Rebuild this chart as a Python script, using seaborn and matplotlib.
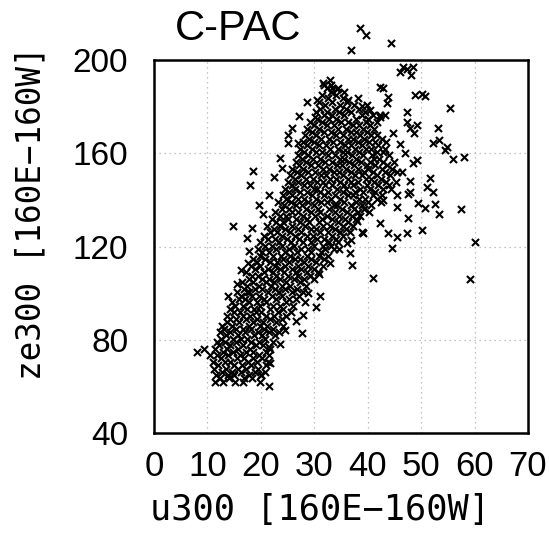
import matplotlib
matplotlib.use("Agg")
import matplotlib.pyplot as plt
import seaborn as sns
import pandas as pd

# dense cloud, row by row: (ze300 level, u300 values at that level)
rows_low = [
    (62.0, [11.4, 12.9, 15.2, 16.6, 19.8]),
    (63.4, [12.3, 14.1, 16.9, 18.3]),
    (64.9, [11.6, 13.8, 15.0, 17.7, 20.0]),
    (66.3, [12.7, 14.6, 16.2, 18.9, 20.7]),
    (67.6, [11.3, 13.4, 15.8, 17.2, 19.5]),
    (69.1, [12.0, 14.9, 16.5, 18.1, 20.9]),
    (70.5, [11.1, 13.2, 14.3, 17.6, 19.3, 21.4]),
    (72.0, [12.5, 15.5, 16.9, 18.6, 20.2]),
    (73.3, [10.4, 11.7, 13.9, 16.1, 19.7, 21.6]),
    (74.8, [8.1, 12.9, 14.8, 17.3, 18.5, 20.9]),
    (76.1, [9.3, 11.5, 13.6, 15.7, 17.9, 21.8]),
    (77.6, [12.2, 14.2, 16.6, 19.0, 20.4]),
    (79.0, [11.8, 13.3, 15.4, 18.1, 19.6, 22.2]),
    (80.4, [12.6, 14.7, 16.2, 17.5, 20.8]),
    (81.9, [13.5, 15.8, 18.8, 20.2, 22.6]),
    (83.2, [12.3, 14.2, 17.0, 19.4, 21.5, 23.4]),
    (84.7, [13.1, 15.3, 16.6, 18.2, 20.6, 22.3]),
    (86.0, [12.8, 14.6, 17.7, 19.9, 21.2, 24.1]),
    (87.5, [13.7, 16.0, 18.5, 20.4, 22.8]),
    (88.9, [14.3, 15.4, 17.2, 19.3, 21.8, 23.9]),
    (90.3, [13.6, 16.6, 18.0, 20.9, 22.4, 24.7]),
    (91.8, [14.9, 16.1, 19.0, 20.1, 23.3, 25.6]),
    (93.2, [14.2, 17.5, 18.7, 21.7, 24.2]),
    (94.6, [15.1, 16.6, 19.8, 22.3, 23.5, 26.1]),
    (96.0, [14.6, 17.8, 19.2, 21.0, 24.8, 28.2]),
    (97.5, [15.9, 17.1, 20.5, 22.9, 25.3, 26.6]),
    (98.9, [16.3, 18.4, 19.7, 22.1, 24.0, 27.2]),
]

rows_mid = [
    (100.3, [15.6, 17.7, 21.3, 23.4, 25.9, 27.9]),
    (101.8, [16.9, 18.9, 20.3, 22.7, 24.6, 26.8]),
    (103.2, [17.4, 19.6, 21.9, 23.9, 25.4, 28.5]),
    (104.7, [16.5, 18.6, 20.9, 22.5, 24.8, 27.3]),
    (106.0, [17.8, 20.2, 21.6, 23.6, 26.2, 28.1, 29.9]),
    (107.5, [18.4, 19.5, 22.9, 25.1, 27.0, 29.2]),
    (108.9, [17.3, 20.6, 22.2, 24.3, 26.5, 28.6, 30.7]),
    (110.3, [18.9, 21.3, 23.5, 25.8, 27.5, 29.9]),
    (111.8, [18.1, 19.8, 22.6, 24.6, 26.9, 28.9, 31.6]),
    (113.2, [19.3, 21.7, 23.1, 25.2, 28.0, 30.4]),
    (114.6, [18.6, 20.7, 24.1, 26.4, 27.3, 29.4, 31.9]),
    (116.1, [19.9, 22.3, 23.8, 25.5, 28.6, 30.8, 32.5]),
    (117.5, [20.3, 21.5, 24.6, 26.8, 29.3, 31.3]),
    (118.9, [19.5, 22.8, 25.2, 27.5, 28.9, 32.1, 33.6]),
    (120.4, [20.8, 22.0, 24.0, 26.2, 30.0, 31.6, 33.1]),
    (121.8, [19.9, 23.4, 25.7, 27.9, 29.4, 32.7, 34.5]),
    (123.3, [21.4, 22.6, 24.9, 27.2, 30.5, 31.9, 34.0]),
    (124.7, [20.6, 23.9, 26.3, 28.7, 29.8, 33.4, 35.3]),
    (126.1, [21.8, 23.0, 25.5, 27.6, 31.0, 32.6, 34.8, 36.6]),
    (127.6, [22.4, 24.6, 26.9, 29.3, 30.4, 33.9, 35.9]),
    (129.0, [21.2, 23.6, 25.9, 28.2, 31.7, 32.9, 35.4, 37.3]),
    (130.4, [22.9, 24.2, 27.4, 29.0, 30.8, 34.4, 36.4]),
    (131.9, [22.1, 25.1, 26.6, 28.6, 31.5, 33.3, 35.8, 37.9]),
    (133.3, [23.5, 24.7, 27.9, 30.1, 32.3, 34.7, 37.0, 38.5]),
    (134.7, [22.6, 25.8, 26.9, 29.4, 31.1, 33.8, 36.1, 38.1]),
    (136.2, [23.9, 25.3, 28.4, 30.7, 32.8, 35.2, 37.5, 39.4]),
    (137.6, [24.4, 26.5, 27.7, 29.9, 33.6, 34.3, 36.8, 38.9, 40.7]),
    (139.0, [23.2, 25.6, 28.9, 31.3, 32.4, 35.6, 37.9, 40.0]),
]

rows_high = [
    (140.5, [24.8, 26.9, 28.1, 30.4, 33.1, 34.9, 38.4, 39.5, 41.8]),
    (141.9, [24.1, 25.9, 29.6, 31.9, 33.9, 36.4, 37.2, 40.9, 42.6]),
    (143.4, [25.3, 27.4, 28.6, 31.1, 32.6, 35.3, 37.7, 39.1, 41.4]),
    (144.8, [24.5, 26.3, 29.9, 30.6, 34.3, 36.0, 38.6, 40.4, 42.9, 44.3]),
    (146.2, [25.8, 28.0, 29.2, 32.0, 33.4, 35.6, 37.3, 39.9, 41.9]),
    (147.7, [25.1, 27.0, 30.5, 31.6, 34.8, 36.9, 38.2, 41.1, 43.5, 45.3]),
    (149.1, [26.3, 28.5, 29.7, 32.9, 34.1, 36.3, 39.6, 40.6, 42.4]),
    (150.5, [25.5, 27.6, 31.2, 32.2, 35.4, 37.7, 38.9, 41.8, 44.1]),
    (152.0, [26.8, 28.9, 30.1, 33.6, 34.6, 36.9, 39.3, 40.9, 43.3, 45.4]),
    (153.4, [25.9, 27.9, 31.6, 32.8, 35.9, 38.2, 40.1, 42.6, 44.6]),
    (154.8, [27.2, 29.3, 30.7, 34.2, 35.2, 37.4, 39.8, 41.4, 43.7]),
    (156.3, [26.6, 28.4, 32.1, 33.3, 36.5, 38.7, 40.5, 42.9, 44.9]),
    (157.7, [27.7, 29.8, 31.0, 34.8, 35.6, 37.9, 41.2, 42.2]),
    (159.1, [26.9, 28.9, 32.6, 33.9, 37.1, 39.1, 40.8, 43.9]),
    (160.6, [28.1, 30.3, 31.5, 35.3, 36.2, 38.4, 41.7, 42.8]),
    (162.0, [27.3, 29.5, 33.0, 34.4, 37.6, 39.7, 40.6, 43.3]),
    (163.4, [28.6, 30.8, 32.2, 35.8, 36.8, 38.9, 42.0]),
    (164.9, [27.8, 29.9, 33.5, 34.9, 38.1, 40.2, 41.3, 43.5]),
    (166.3, [29.0, 31.3, 32.7, 36.3, 37.3, 39.4, 42.6]),
    (167.7, [28.3, 30.4, 34.0, 35.4, 38.6, 40.7, 41.8]),
    (169.2, [29.5, 31.8, 33.1, 36.8, 37.9, 39.9]),
    (170.6, [28.7, 30.9, 34.5, 35.9, 39.1, 41.2]),
    (172.0, [30.0, 32.3, 33.6, 37.3, 38.4, 40.4]),
    (173.5, [29.2, 31.4, 35.0, 36.4, 39.6, 41.7]),
    (174.9, [30.5, 32.8, 34.1, 37.8, 40.0]),
    (176.3, [31.9, 33.3, 35.5, 38.9, 41.0]),
    (177.8, [30.3, 32.4, 34.6, 36.9, 39.5]),
    (179.2, [31.1, 33.8, 35.9, 38.3]),
    (180.6, [32.1, 34.8, 37.4, 39.8]),
    (182.1, [30.9, 33.4, 36.2]),
    (183.5, [32.6, 35.3, 38.2]),
    (184.9, [31.4, 34.0]),
    (186.4, [33.1, 35.6]),
    (187.8, [32.3, 34.4]),
    (189.3, [31.8, 33.2]),
]

# scattered points around the band
outer_u = [38.6, 39.7, 36.9, 44.4, 46.6, 48.5, 48.1, 46.0, 47.4, 48.8, 50.2, 50.8,
           55.4, 47.3, 47.3, 48.0, 49.2, 48.6, 53.2, 52.2, 53.3, 54.8, 54.5, 56.0,
           58.0, 51.7, 51.1, 52.2, 52.6, 50.7, 53.3, 57.5, 50.2, 60.1, 59.1, 47.5,
           47.3, 45.5, 45.5, 47.5, 49.4, 43.8, 45.5, 38.9, 42.3, 41.0, 44.5, 37.0,
           36.7, 36.1, 39.1, 27.7, 30.3, 27.9, 21.5, 21.7, 21.5, 20.0, 44.7, 46.0,
           47.0, 48.5, 46.5, 48.0, 44.0, 49.2, 42.9, 47.9, 42.3, 30.5, 30.1, 25.8,
           14.8, 18.0, 18.5, 20.4, 17.4, 17.6, 17.4, 13.9, 25.1, 27.0, 24.0, 31.6,
           32.9, 33.3, 34.2, 36.3, 38.9, 40.4, 42.3, 42.3, 42.9, 43.8, 43.6, 43.2, 31.1,
           15.5, 16.2, 17.8, 18.3, 19.6, 21.5, 22.4, 23.6, 25.0, 27.2, 28.6,
           26.5, 28.9, 30.8, 33.0, 34.6, 36.9, 38.0, 40.3, 42.5, 23.5, 24.6]
outer_ze = [213.7, 210.7, 204.3, 207.3, 197.0, 197.0, 193.5, 195.0, 196.0, 185.0, 185.4, 184.6,
            179.4, 177.7, 173.4, 170.8, 172.1, 168.5, 170.8, 164.6, 165.7, 162.7, 161.4, 157.5,
            158.4, 149.4, 145.5, 143.4, 138.2, 136.5, 133.9, 136.1, 127.1, 121.9, 106.0, 132.2,
            125.8, 142.1, 136.9, 142.5, 138.7, 125.8, 124.1, 126.2, 130.1, 106.5, 119.3, 112.0,
            117.2, 121.5, 125.8, 82.9, 94.0, 90.6, 76.9, 70.0, 60.1, 64.9, 168.7, 164.0,
            160.0, 156.0, 152.0, 148.0, 146.5, 157.0, 140.0, 143.4, 176.4, 182.8, 175.5, 170.8,
            128.8, 146.4, 152.4, 133.9, 123.6, 112.9, 100.5, 98.8, 164.4, 164.4, 153.7, 190.1,
            191.4, 188.0, 187.6, 182.8, 180.3, 178.5, 175.5, 188.4, 188.0, 184.1, 181.5, 176.5, 98.8,
            104.0, 110.0, 118.0, 128.0, 138.0, 142.0, 150.0, 158.0, 168.0, 176.0, 182.0,
            88.0, 100.0, 108.0, 113.0, 119.0, 123.0, 131.0, 135.0, 139.0, 78.0, 84.0]

u_vals, ze_vals = [], []
for level, us in rows_low + rows_mid + rows_high:
    u_vals += us
    ze_vals += [level] * len(us)
u_vals += outer_u
ze_vals += outer_ze
df = pd.DataFrame({"u300": u_vals, "ze300": ze_vals})

sns.set_style("white")
plt.rcParams["text.color"] = "black"
fig = plt.figure(figsize=(5.49, 5.34), dpi=100)
ax = fig.add_axes([0.2805, 0.1891, 0.6812, 0.6985])

sns.scatterplot(data=df, x="u300", y="ze300", marker="x", color="black",
                s=26, linewidth=1.5, clip_on=False, ax=ax, zorder=3)

ax.set_xlim(0, 70)
ax.set_ylim(40, 200)
ax.set_xticks(range(0, 71, 10))
ax.set_yticks(range(40, 201, 40))
ax.grid(True, color="#b0b0b0", linestyle=(0, (1, 3)), linewidth=0.9)
for s in ax.spines.values():
    s.set_linewidth(1.8)
    s.set_color("black")
ax.tick_params(direction="out", length=7.5, width=1.6, color="black",
               labelcolor="black")
ax.tick_params(axis="x", pad=5, labelsize=25)
ax.tick_params(axis="y", pad=11, labelsize=24)
for lab in ax.get_xticklabels() + ax.get_yticklabels():
    lab.set_family("Liberation Sans")

ax.set_xlabel("u300 [160E\u2212160W]", fontsize=25.5, color="black",
              family="DejaVu Sans Mono")
ax.set_ylabel("ze300 [160E\u2212160W]", fontsize=23.5, color="black",
              family="DejaVu Sans Mono")
ax.xaxis.set_label_coords(0.445, -0.16)
ax.yaxis.set_label_coords(-0.285, 0.59)
fig.text(0.434, 0.945, "C-PAC", fontsize=30, color="black",
         family=["Liberation Sans Narrow", "Liberation Sans"],
         ha="center", va="center")

fig.savefig("out.png", dpi=100)
